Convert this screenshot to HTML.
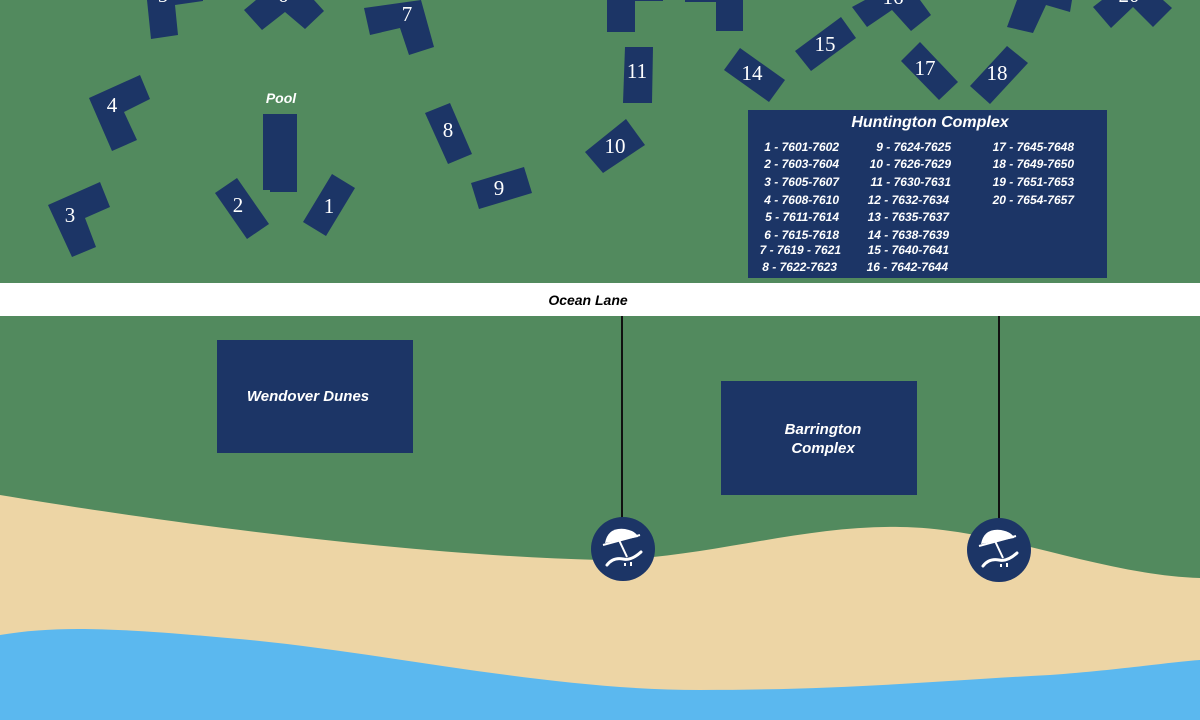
<!DOCTYPE html>
<html><head><meta charset="utf-8"><style>
html,body{margin:0;padding:0;width:1200px;height:720px;overflow:hidden;background:#528a5e}
svg{display:block}
.n{font-family:"Liberation Serif",serif;font-size:21px;fill:#fff;text-anchor:middle}
.b{font-family:"Liberation Sans",sans-serif;font-weight:bold;font-style:italic;fill:#fff}
.l{font-family:"Liberation Sans",sans-serif;font-weight:bold;font-style:italic;fill:#fff;font-size:12px;text-anchor:end}
</style></head><body>
<svg width="1200" height="720" viewBox="0 0 1200 720" xmlns="http://www.w3.org/2000/svg">
<rect width="1200" height="720" fill="#528a5e"/>
<g fill="#1c3566">
<polygon points="147,0 203,0 203,1 175,5 178,35 151,39"/>
<polygon points="244,10 256,0 314,0 324,11 305,29 285,12 262,30"/>
<polygon points="364,8 421,0 434,47 409,55 400,28 370,35"/>
<polygon points="89,98 140,75 150,99 124,112 137,140 112,151"/>
<polygon points="48,205 100,182 110,207 85,218 96,247 72,257"/>
<polygon points="263,114 297,114 297,192 270,192 270,190 263,190"/>
<polygon points="215,193 237,178 269,224 247,239"/>
<polygon points="303,222 332,174 355,188 326,236"/>
<polygon points="425,113 450,103 472,154 448,164"/>
<polygon points="471,183 524,167 532,193 479,209"/>
<polygon points="585,152 626,119 645,145 603,173"/>
<polygon points="625,47 653,47 652,103 623,103"/>
<polygon points="607,0 663,0 663,1 635,1 635,32 607,32"/>
<polygon points="685,0 743,0 743,31 716,31 716,2 685,2"/>
<polygon points="724,70 740,48 785,80 769,102"/>
<polygon points="795,51 841,17 856,38 811,71"/>
<polygon points="852,7 865,0 920,0 931,15 911,31 892,10 867,27"/>
<polygon points="901,61 920,42 958,82 939,100"/>
<polygon points="970,86 1007,46 1028,63 990,104"/>
<polygon points="1017,0 1072,0 1070,12 1046,5 1033,33 1007,27"/>
<polygon points="1093,7 1102,0 1163,0 1172,8 1153,27 1133,7 1111,28"/>
</g>
<g class="n">
<text x="329" y="213">1</text><text x="238" y="212">2</text><text x="70" y="222">3</text>
<text x="112" y="112">4</text><text x="163" y="2">5</text><text x="283" y="2">6</text>
<text x="407" y="21">7</text><text x="448" y="137">8</text><text x="499" y="195">9</text>
<text x="615" y="153">10</text><text x="637" y="78">11</text><text x="752" y="80">14</text>
<text x="825" y="51">15</text><text x="893" y="4">16</text><text x="925" y="75">17</text>
<text x="997" y="80">18</text><text x="1129" y="2">20</text>
</g>
<text class="b" x="281" y="103" font-size="14" text-anchor="middle">Pool</text>
<rect x="748" y="110" width="359" height="168" fill="#1c3566"/>
<text class="b" x="930" y="127" font-size="16" text-anchor="middle">Huntington Complex</text>
<g class="l">
<text x="839" y="151">1 - 7601-7602</text><text x="839" y="168">2 - 7603-7604</text>
<text x="839" y="186">3 - 7605-7607</text><text x="839" y="204">4 - 7608-7610</text>
<text x="839" y="221">5 - 7611-7614</text><text x="839" y="239">6 - 7615-7618</text>
<text x="841" y="254">7 - 7619 - 7621</text><text x="837" y="271">8 - 7622-7623</text>
<text x="951" y="151">9 - 7624-7625</text><text x="951" y="168">10 - 7626-7629</text>
<text x="951" y="186">11 - 7630-7631</text><text x="949" y="204">12 - 7632-7634</text>
<text x="949" y="221">13 - 7635-7637</text><text x="949" y="239">14 - 7638-7639</text>
<text x="949" y="254">15 - 7640-7641</text><text x="948" y="271">16 - 7642-7644</text>
<text x="1074" y="151">17 - 7645-7648</text><text x="1074" y="168">18 - 7649-7650</text>
<text x="1074" y="186">19 - 7651-7653</text><text x="1074" y="204">20 - 7654-7657</text>
</g>
<rect x="0" y="283" width="1200" height="33" fill="#fff"/>
<text class="b" x="588" y="305" font-size="14" fill="#000" style="fill:#000" text-anchor="middle">Ocean Lane</text>
<rect x="217" y="340" width="196" height="113" fill="#1c3566"/>
<text class="b" x="308" y="401" font-size="15" text-anchor="middle">Wendover Dunes</text>
<rect x="721" y="381" width="196" height="114" fill="#1c3566"/>
<text class="b" x="823" y="434" font-size="15" text-anchor="middle">Barrington</text>
<text class="b" x="823" y="453" font-size="15" text-anchor="middle">Complex</text>
<path d="M0,495 C150,520 400,555 600,560 C700,560 800,525 900,527 C1000,528 1100,575 1200,578 L1200,720 L0,720 Z" fill="#edd5a5"/>
<path d="M0,635 C60,625 120,628 250,640 C400,655 550,690 700,690 C850,690 950,680 1050,675 C1120,670 1170,662 1200,660 L1200,720 L0,720 Z" fill="#5bb8ef"/>
<line x1="622" y1="316" x2="622" y2="520" stroke="#111" stroke-width="2"/>
<line x1="999" y1="316" x2="999" y2="520" stroke="#111" stroke-width="2"/>
<g>
<circle cx="623" cy="549" r="32" fill="#1c3566"/>
<circle cx="999" cy="550" r="32" fill="#1c3566"/>
</g>
<g fill="#fff" stroke="#fff">
<g transform="translate(623,549)">
<path d="M-18,-6 Q-15,-22 2,-20 Q13,-18 15,-12 Z" stroke="none"/>
<line x1="-20" y1="-4" x2="17" y2="-14" stroke-width="2"/>
<line x1="-4" y1="-9" x2="4" y2="8" stroke-width="2"/>
<path d="M-16,16 Q-10,8 0,10 Q8,12 18,3" fill="none" stroke-width="3" stroke-linecap="round"/>
<line x1="2" y1="14" x2="2" y2="17" stroke-width="2"/><line x1="8" y1="13" x2="8" y2="17" stroke-width="2"/>
</g>
<g transform="translate(999,550)">
<path d="M-18,-6 Q-15,-22 2,-20 Q13,-18 15,-12 Z" stroke="none"/>
<line x1="-20" y1="-4" x2="17" y2="-14" stroke-width="2"/>
<line x1="-4" y1="-9" x2="4" y2="8" stroke-width="2"/>
<path d="M-16,16 Q-10,8 0,10 Q8,12 18,3" fill="none" stroke-width="3" stroke-linecap="round"/>
<line x1="2" y1="14" x2="2" y2="17" stroke-width="2"/><line x1="8" y1="13" x2="8" y2="17" stroke-width="2"/>
</g>
</g>
</svg>
</body></html>
